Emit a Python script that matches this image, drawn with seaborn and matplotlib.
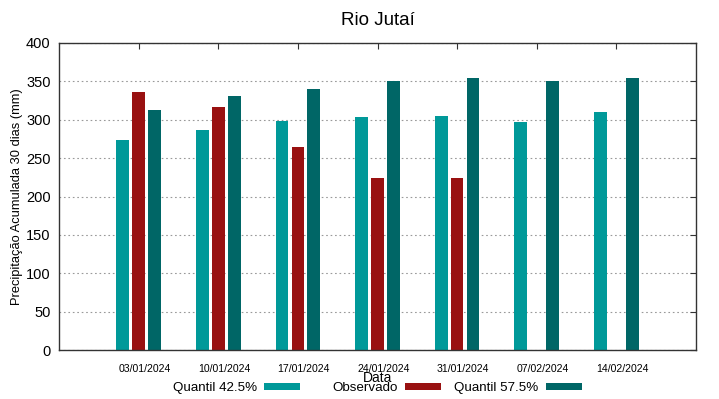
import matplotlib
matplotlib.use("Agg")
import matplotlib.pyplot as plt
import matplotlib.transforms as mtransforms
from matplotlib.patches import Patch
import numpy as np
import pandas as pd
import seaborn as sns

datas = ["03/01/2024", "10/01/2024", "17/01/2024", "24/01/2024",
         "31/01/2024", "07/02/2024", "14/02/2024"]
quantil_425 = [274, 287, 299, 303, 305, 297, 310]
observado = [336, 317, 265, 224, 224, np.nan, np.nan]
quantil_575 = [313, 331, 340, 350, 355, 350, 355]
series_names = ["Quantil 42.5%", "Observado", "Quantil 57.5%"]
colors = ["#009999", "#991111", "#006666"]

df = pd.DataFrame({
    "Data": datas * 3,
    "Serie": [series_names[0]] * 7 + [series_names[1]] * 7 + [series_names[2]] * 7,
    "Valor": quantil_425 + observado + quantil_575,
})

sns.set_style("white")
plt.rcParams["font.family"] = ["Liberation Sans", "DejaVu Sans"]
plt.rcParams["text.color"] = "black"
plt.rcParams["axes.labelcolor"] = "black"
plt.rcParams["xtick.color"] = "black"
plt.rcParams["ytick.color"] = "black"

fig = plt.figure(figsize=(7.19, 3.99), dpi=100)
ax = fig.add_axes([59 / 719, 1 - 350 / 399, (696 - 59) / 719, (350 - 43) / 399])

sns.barplot(data=df, x="Data", y="Valor", hue="Serie", order=datas,
            hue_order=series_names, palette=colors, width=0.6, gap=0.2,
            saturation=1, ax=ax, legend=False, edgecolor="none")

ax.set_xlim(-1, 7)
ax.set_ylim(0, 400)
ax.set_yticks(np.arange(0, 401, 50))
ax.yaxis.grid(True, linestyle=(0, (1.5, 2.5)), color="#999999", linewidth=0.8)
ax.set_axisbelow(True)
for s in ax.spines.values():
    s.set_color("#333333")
    s.set_linewidth(1.0)
    s.set_visible(True)

ax.tick_params(axis="both", direction="in", top=True, right=True, length=4,
               color="#333333")
ax.tick_params(axis="x", labelsize=7.6, pad=10)
ax.tick_params(axis="y", labelsize=10.5, pad=6)
offset = mtransforms.ScaledTranslation(6 / 100, 0, fig.dpi_scale_trans)
for lab in ax.get_xticklabels():
    lab.set_transform(lab.get_transform() + offset)

ax.set_xlabel("Data", fontsize=10, labelpad=-2)
ax.set_ylabel("Precipitação Acumulada 30 dias (mm)", fontsize=9.3)
ax.yaxis.set_label_coords((23 - 59) / 637, 0.5)
ax.set_title("Rio Jutaí", fontsize=13.5, pad=13)

right_edges = [300, 441, 582]
for name, col, xr in zip(series_names, colors, right_edges):
    fig.legend(handles=[Patch(facecolor=col, edgecolor="none")], labels=[name],
               loc="center right", bbox_to_anchor=(xr / 719, 1 - 388 / 399),
               frameon=False, markerfirst=False, fontsize=9.6,
               handlelength=2.7, handleheight=0.45, handletextpad=0.55,
               borderpad=0, borderaxespad=0)

fig.savefig("out.png", dpi=100)
